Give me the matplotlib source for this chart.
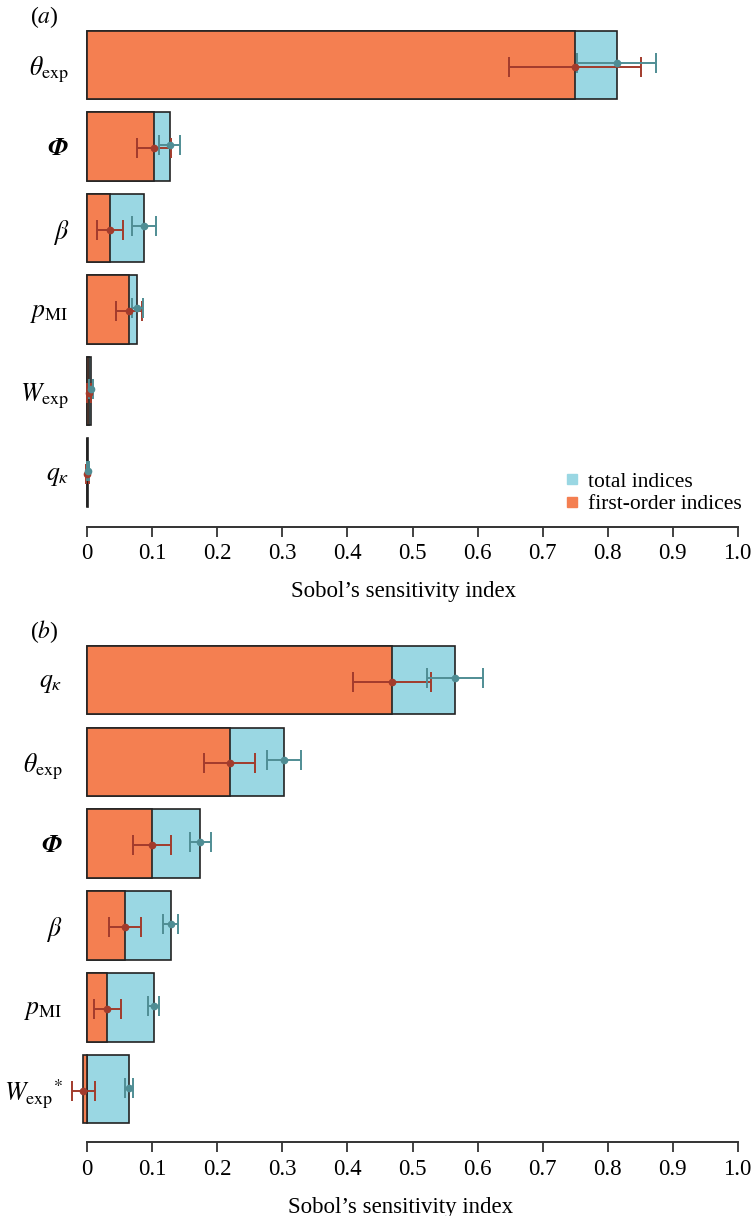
import matplotlib.pyplot as plt
from matplotlib.lines import Line2D
import numpy as np

plt.rcParams['font.family'] = ['Liberation Serif', 'DejaVu Serif']
plt.rcParams['mathtext.fontset'] = 'stix'

# panel (a)
labels_a = [r'$\theta_{\mathrm{exp}}$', r'$\mathbfit{\Phi}$', r'$\beta$',
            r'$p_{\mathrm{MI}}$', r'$W_{\mathrm{exp}}$', r'$q_{\kappa}$']
first_a = [0.750, 0.102, 0.035, 0.064, 0.002, 0.000]
first_err_a = [0.102, 0.026, 0.020, 0.020, 0.003, 0.002]
total_a = [0.814, 0.127, 0.087, 0.077, 0.005, 0.001]
total_err_a = [0.061, 0.016, 0.018, 0.009, 0.003, 0.002]

# panel (b)
labels_b = [r'$q_{\kappa}$', r'$\theta_{\mathrm{exp}}$', r'$\mathbfit{\Phi}$',
            r'$\beta$', r'$p_{\mathrm{MI}}$', r'$W_{\mathrm{exp}}{}^{*}$']
first_b = [0.469, 0.219, 0.0995, 0.058, 0.031, -0.006]
first_err_b = [0.060, 0.039, 0.029, 0.024, 0.021, 0.018]
total_b = [0.565, 0.303, 0.174, 0.128, 0.102, 0.064]
total_err_b = [0.043, 0.026, 0.016, 0.011, 0.009, 0.006]

xticks = [0, 0.1, 0.2, 0.3, 0.4, 0.5, 0.6, 0.7, 0.8, 0.9, 1.0]
xticklabels = ['0', '0.1', '0.2', '0.3', '0.4', '0.5', '0.6', '0.7', '0.8', '0.9', '1.0']

orange = '#F47F51'
teal = '#9AD7E3'
red_err = '#A23B2C'
teal_err = '#4F8D94'

W, H = 753, 1216
x0_px, unit_px = 87.3, 650.4


def draw_panel(fig, labels, first, first_err, total, total_err,
               xmin, top_px, axis_px, ymax, tag):
    left_px = x0_px + xmin * unit_px
    width_px = (1 - xmin) * unit_px
    ax = fig.add_axes([left_px / W, 1 - axis_px / H,
                       width_px / W, (axis_px - top_px) / H])
    y = np.arange(len(labels))
    ax.barh(y, total, height=0.835, color=teal, edgecolor='#222222', linewidth=1.2)
    ax.barh(y, first, height=0.835, color=orange, edgecolor='#222222', linewidth=1.2)
    ax.errorbar(first, y + 0.02, xerr=first_err, fmt='o', color=red_err,
                markersize=4.5, elinewidth=1.4, capsize=7, capthick=1.4)
    ax.errorbar(total, y - 0.02, xerr=total_err, fmt='o', color=teal_err,
                markersize=4.5, elinewidth=1.4, capsize=7, capthick=1.4)
    ax.set_xlim(xmin, 1.0)
    ax.set_ylim(ymax, -0.5)
    for s in ['left', 'right', 'top']:
        ax.spines[s].set_visible(False)
    ax.spines['bottom'].set_bounds(0, 1)
    ax.spines['bottom'].set_color('#333333')
    ax.spines['bottom'].set_linewidth(1.4)
    ax.set_xticks(xticks)
    ax.set_xticklabels(xticklabels, fontsize=16.5)
    ax.tick_params(axis='x', length=7, width=1.3, color='#333333', pad=5)
    ax.set_yticks(y)
    ax.set_yticklabels(labels, fontsize=18.5)
    ax.tick_params(axis='y', length=0, pad=1)
    ax.set_xlabel('Sobol\u2019s sensitivity index', fontsize=16.5, labelpad=12)
    fig.text(30 / W, 1 - (top_px - 7) / H, r'($\mathit{' + tag + '}$)',
             fontsize=17, va='center', color='k')
    return ax


fig = plt.figure(figsize=(W / 100, H / 100), dpi=100)

ax_a = draw_panel(fig, labels_a, first_a, first_err_a, total_a, total_err_a,
                  -0.026, 24.25, 526.7, 5.665, 'a')
ax_b = draw_panel(fig, labels_b, first_b, first_err_b, total_b, total_err_b,
                  -0.036, 639.0, 1142.3, 5.649, 'b')

handles = [Line2D([], [], marker='s', linestyle='none', color=teal, markersize=6.5),
           Line2D([], [], marker='s', linestyle='none', color=orange, markersize=6.5)]
fig.legend(handles, ['total indices', 'first-order indices'], loc='upper left',
           bbox_to_anchor=(550 / W, 1 - 461 / H), frameon=False, fontsize=15.5,
           borderpad=0, handletextpad=0.25, labelspacing=0.1, handlelength=1.0)

fig.savefig('out.png', dpi=100)
